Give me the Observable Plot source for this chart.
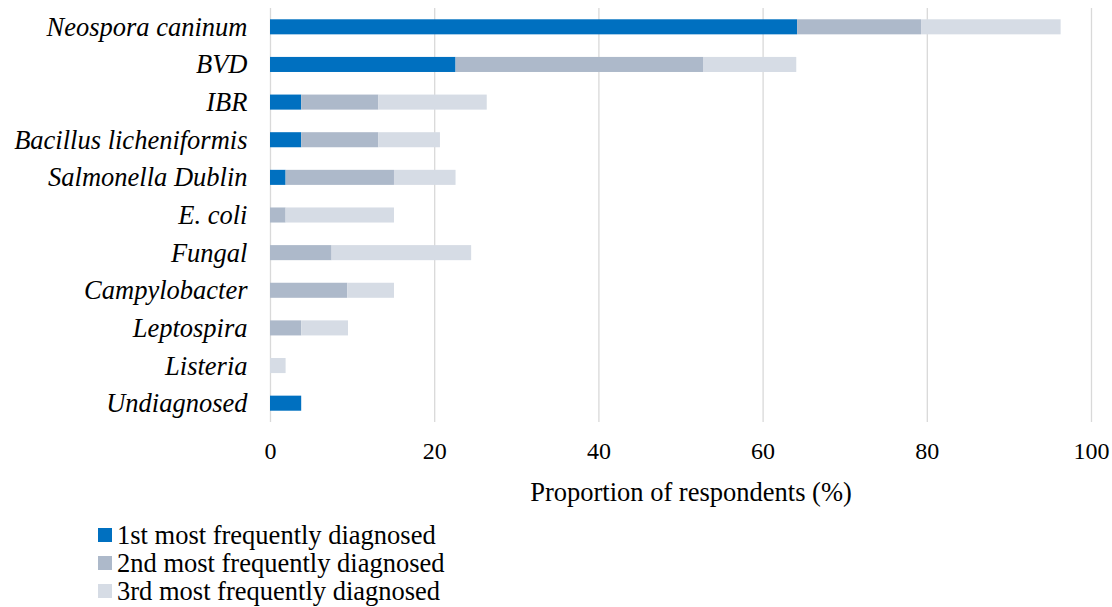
<!DOCTYPE html>
<html><head><meta charset="utf-8">
<script src="https://cdn.jsdelivr.net/npm/d3@7"></script>
<script src="https://cdn.jsdelivr.net/npm/@observablehq/plot@0.6"></script>
<style>
body{margin:0;background:#fff;font-family:"Liberation Serif","Times New Roman",serif;}
#chart{position:relative;width:1112px;height:607px;overflow:hidden;}
.legend{position:absolute;left:98px;top:521px;font-size:26.5px;line-height:28px;color:#000;}
.legend div{display:flex;align-items:center;height:28px;}
.sw{width:14px;height:14px;margin-right:5px;flex:none;}
</style></head><body><div id="chart"></div>
<script>
const categories = ["Neospora caninum","BVD","IBR","Bacillus licheniformis","Salmonella Dublin","E. coli","Fungal","Campylobacter","Leptospira","Listeria","Undiagnosed"];
const series = ["1st most frequently diagnosed","2nd most frequently diagnosed","3rd most frequently diagnosed"];
const first  = [64.2, 22.6, 3.8, 3.8, 1.9, 0, 0, 0, 0, 0, 3.8];
const second = [15.1, 30.2, 9.4, 9.4, 13.2, 1.9, 7.5, 9.4, 3.8, 0, 0];
const third  = [17.0, 11.3, 13.2, 7.5, 7.5, 13.2, 17.0, 5.7, 5.7, 1.9, 0];
const colors = ["#0070C0","#ADB9CA","#D6DCE5"];
const xTicks = [0,20,40,60,80,100];
const xLabel = "Proportion of respondents (%)";

const rows = [];
categories.forEach((c,i)=>{
  [first,second,third].forEach((arr,k)=>{
    rows.push({category:c, series:series[k], value:arr[i]});
  });
});

const chart = Plot.plot({
  width: 1112,
  height: 510,
  marginLeft: 270,
  marginRight: 21,
  marginTop: 8,
  marginBottom: 88,
  style: {fontFamily: '"Liberation Serif","Times New Roman",serif', fontSize: "24px", color: "#000", background: "#fff"},
  x: {domain: [0,100]},
  y: {domain: categories, paddingInner: 0.6, paddingOuter: 0.3, round: false},
  color: {domain: series, range: colors},
  marks: [
    Plot.gridX({ticks: xTicks, stroke: "#D9D9D9", strokeOpacity: 1, strokeWidth: 1.3}),
    Plot.barX(rows, Plot.stackX({x: "value", y: "category", fill: "series", order: series})),
    Plot.axisY({tickSize: 0, tickPadding: 23, fontStyle: "italic", fontSize: 26.5, label: null}),
    Plot.axisX({ticks: xTicks, tickSize: 0, tickPadding: 19, fontSize: 24, label: null}),
    Plot.text([xLabel], {frameAnchor: "bottom", dx: 10, dy: 70, lineAnchor: "middle", fontSize: 26.5, fill: "#000"})
  ]
});
const root = document.getElementById("chart");
root.appendChild(chart);

const legend = document.createElement("div");
legend.className = "legend";
series.forEach((s,k)=>{
  const r = document.createElement("div");
  const sw = document.createElement("span");
  sw.className = "sw"; sw.style.background = colors[k];
  const t = document.createElement("span"); t.textContent = s;
  r.appendChild(sw); r.appendChild(t); legend.appendChild(r);
});
root.appendChild(legend);
</script>
</body></html>
